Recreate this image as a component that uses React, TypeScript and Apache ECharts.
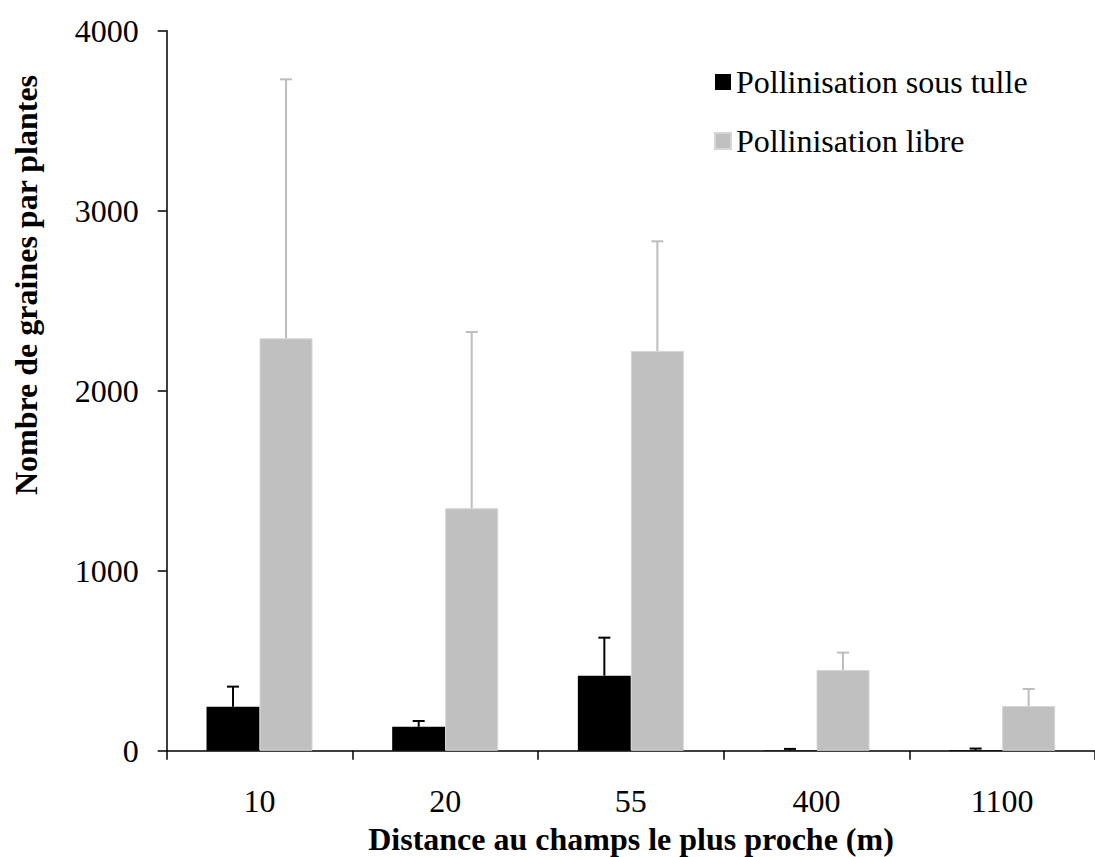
import React, { useEffect, useRef } from "react";
import * as echarts from "echarts";

const categories = ["10", "20", "55", "400", "1100"];
const seriesNames = ["Pollinisation sous tulle", "Pollinisation libre"];
const sousTulle = [244, 133, 417, 3, 4];
const sousTulleErrTop = [356, 165, 628, 10, 12];
const libre = [2291, 1347, 2221, 448, 248];
const libreErrTop = [3730, 2326, 2830, 545, 343];
const yTicks = { min: 0, max: 4000, interval: 1000 };
const yTitle = "Nombre de graines par plantes";
const xTitle = "Distance au champs le plus proche (m)";

const FONT = "Liberation Serif";
const BAR_W = 53;

function errorSeries(values: number[], tops: number[], offset: number, color: string) {
  return {
    type: "custom",
    z: 5,
    silent: true,
    data: values.map((v, i) => [i, v, tops[i]]),
    encode: { x: 0, y: [1, 2] },
    renderItem: (params: any, api: any) => {
      const ci = api.value(0);
      const p0 = api.coord([ci, api.value(1)]);
      const p1 = api.coord([ci, api.value(2)]);
      const x = p0[0] + offset;
      const style = { stroke: color, lineWidth: 2 };
      return {
        type: "group",
        children: [
          { type: "line", shape: { x1: x, y1: p0[1], x2: x, y2: p1[1] }, style },
          { type: "line", shape: { x1: x - 6, y1: p1[1], x2: x + 6, y2: p1[1] }, style },
        ],
      };
    },
  };
}

export default function App() {
  const ref = useRef<HTMLDivElement>(null);
  useEffect(() => {
    if (!ref.current) return;
    const chart = echarts.init(ref.current, null, { renderer: "svg" });
    chart.setOption({
      animation: false,
      backgroundColor: "#ffffff",
      textStyle: { fontFamily: FONT },
      grid: { left: 166.7, top: 30.7, width: 933.3, height: 720, containLabel: false },
      legend: {
        data: seriesNames,
        orient: "vertical",
        left: 714,
        top: 66,
        padding: 0,
        itemWidth: 16,
        itemHeight: 16,
        itemGap: 27,
        icon: "rect",
        textStyle: { fontFamily: FONT, fontSize: 32, color: "#000" },
      },
      xAxis: {
        type: "category",
        data: categories,
        boundaryGap: true,
        axisLine: { lineStyle: { color: "#000", width: 1.5 } },
        axisTick: { show: true, length: 9, lineStyle: { color: "#000", width: 1.5 } },
        axisLabel: { fontFamily: FONT, fontSize: 32, color: "#000", margin: 34 },
        splitLine: { show: false },
      },
      yAxis: {
        type: "value",
        min: yTicks.min,
        max: yTicks.max,
        interval: yTicks.interval,
        axisLine: { show: true, lineStyle: { color: "#000", width: 1.5 } },
        axisTick: { show: true, length: 9, lineStyle: { color: "#000", width: 1.5 } },
        axisLabel: {
          fontFamily: FONT,
          fontSize: 32,
          color: "#000",
          margin: 28,
          formatter: (v: number) => String(v),
        },
        splitLine: { show: false },
      },
      graphic: [
        {
          type: "text",
          x: 26,
          y: 285,
          rotation: Math.PI / 2,
          style: {
            text: yTitle,
            fontFamily: FONT,
            fontSize: 32,
            fontWeight: "bold",
            fill: "#000",
            textAlign: "center",
            textVerticalAlign: "middle",
          },
        },
        {
          type: "text",
          x: 631,
          y: 839,
          style: {
            text: xTitle,
            fontFamily: FONT,
            fontSize: 32,
            fontWeight: "bold",
            fill: "#000",
            textAlign: "center",
            textVerticalAlign: "middle",
          },
        },
      ],
      series: [
        {
          name: seriesNames[0],
          type: "bar",
          data: sousTulle,
          barWidth: BAR_W,
          barGap: "0%",
          itemStyle: { color: "#000000" },
        },
        {
          name: seriesNames[1],
          type: "bar",
          data: libre,
          barWidth: BAR_W,
          barGap: "0%",
          itemStyle: { color: "#c0c0c0", borderColor: "#d6d6d6", borderWidth: 1 },
        },
        errorSeries(sousTulle, sousTulleErrTop, -BAR_W / 2, "#000000"),
        errorSeries(libre, libreErrTop, BAR_W / 2, "#bdbdbd"),
      ],
    });
    return () => chart.dispose();
  }, []);
  return (
    <div
      ref={ref}
      style={{ position: "fixed", left: 0, top: 0, width: 1095, height: 857, background: "#fff" }}
    />
  );
}
